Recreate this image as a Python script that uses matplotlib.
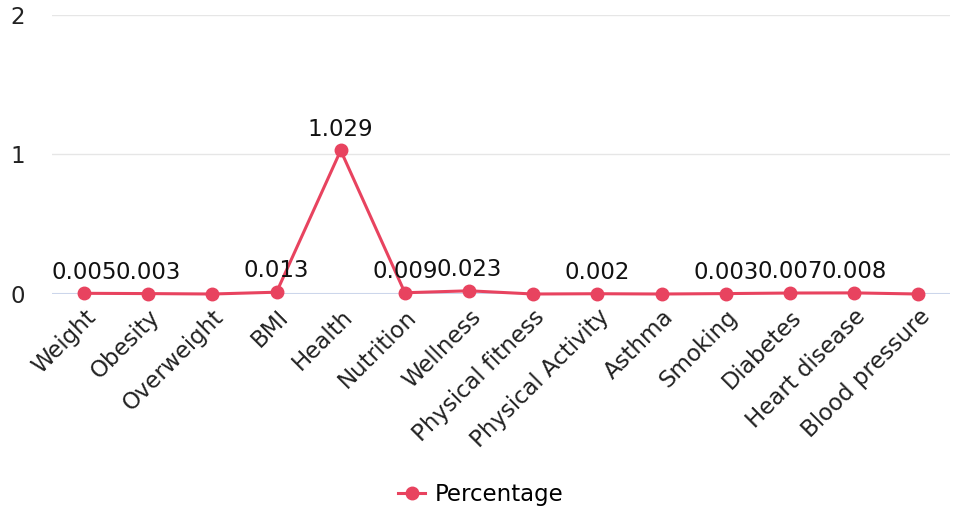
import matplotlib.pyplot as plt

categories = ["Weight", "Obesity", "Overweight", "BMI", "Health", "Nutrition",
              "Wellness", "Physical fitness", "Physical Activity", "Asthma",
              "Smoking", "Diabetes", "Heart disease", "Blood pressure"]
percentage = [0.005, 0.003, 0, 0.013, 1.029, 0.009, 0.023, 0, 0.002, 0,
              0.003, 0.007, 0.008, 0]

color = "#e8435f"
fs = 16.5

fig = plt.figure(figsize=(9.61, 5.14), dpi=100)
ax = fig.add_axes([0.054, 0.428, 0.935, 0.543])

x = range(len(categories))
ax.plot(x, percentage, color=color, lw=2.2, marker="o", ms=9,
        label="Percentage", zorder=3, clip_on=False)

for xi, v in zip(x, percentage):
    if v != 0:
        ax.annotate(f"{v:g}", (xi, v), xytext=(0, 7), textcoords="offset points",
                    ha="center", va="bottom", fontsize=fs, color="#111111")

ax.set_xlim(-0.5, len(categories) - 0.5)
ax.set_ylim(0, 2)
ax.set_yticks([0, 1, 2])
ax.set_yticklabels(["0", "1", "2"], fontsize=fs, color="#222222")
ax.set_xticks(list(x))
ax.set_xticklabels(categories, rotation=45, ha="right", rotation_mode="anchor",
                   fontsize=fs, color="#222222")
ax.tick_params(axis="both", length=0)
ax.tick_params(axis="x", pad=8)
ax.tick_params(axis="y", pad=30)
for lab in ax.get_yticklabels():
    lab.set_horizontalalignment("left")

ax.grid(axis="y", color="#e6e6e6", lw=1)
ax.axhline(0, color="#ccd6eb", lw=1.5, zorder=2)
for s in ax.spines.values():
    s.set_visible(False)

fig.legend(loc="lower center", bbox_to_anchor=(0.5, -0.025), frameon=False,
           fontsize=fs, handlelength=1.2, handletextpad=0.4)

fig.savefig("out.png", dpi=100)
